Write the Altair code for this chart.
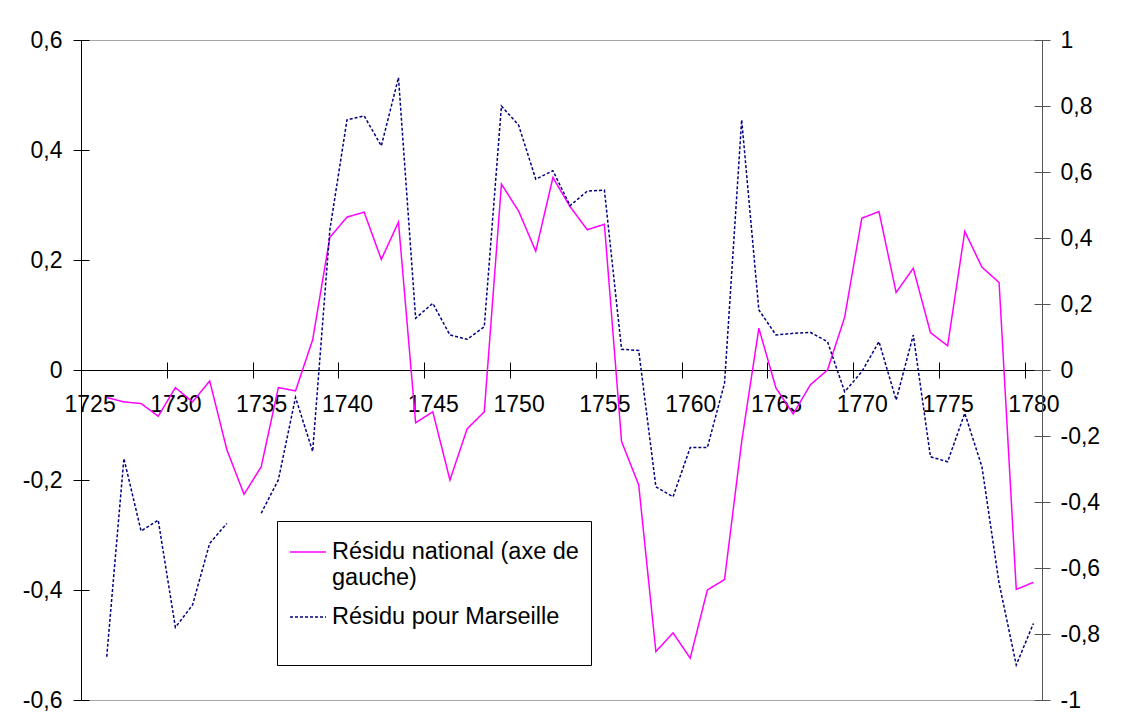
import altair as alt
import pandas as pd

years = list(range(1726, 1781))
national = [-0.050, -0.058, -0.061, -0.084, -0.032, -0.058, -0.020, -0.145, -0.226, -0.176,
            -0.032, -0.038, 0.055, 0.241, 0.278, 0.287, 0.201, 0.269, -0.096, -0.076,
            -0.200, -0.107, -0.076, 0.338, 0.289, 0.216, 0.350, 0.297, 0.255, 0.265,
            -0.130, -0.209, -0.512, -0.478, -0.524, -0.400, -0.381, -0.130, 0.076, -0.033,
            -0.080, -0.027, 0.000, 0.096, 0.276, 0.288, 0.141, 0.185, 0.068, 0.044,
            0.252, 0.187, 0.159, -0.399, -0.386]
marseille = [-0.869, -0.268, -0.488, -0.455, -0.780, -0.712, -0.525, -0.465, None, -0.434,
             -0.333, -0.083, -0.247, 0.424, 0.758, 0.770, 0.679, 0.886, 0.157, 0.202,
             0.106, 0.093, 0.131, 0.800, 0.742, 0.578, 0.604, 0.498, 0.542, 0.545,
             0.063, 0.059, -0.354, -0.384, -0.235, -0.235, -0.040, 0.758, 0.182, 0.106,
             0.111, 0.114, 0.086, -0.066, -0.005, 0.086, -0.091, 0.106, -0.263, -0.278,
             -0.131, -0.293, -0.646, -0.894, -0.768]
series_names = ["Résidu national (axe de gauche)", "Résidu pour Marseille"]
x_labels = list(range(1725, 1781, 5))
left_ticks = [-0.6, -0.4, -0.2, 0, 0.2, 0.4, 0.6]
right_ticks = [-1, -0.8, -0.6, -0.4, -0.2, 0, 0.2, 0.4, 0.6, 0.8, 1]

df_nat = pd.DataFrame({"year": years, "value": national, "serie": series_names[0]})
df_mar = pd.DataFrame({"year": years, "value": marseille, "serie": series_names[1]})

W, H = 961, 660
CAT = W / 56.0
FONT = "Liberation Sans"
FS = 23
LFS = 23.5
TS = 8
x_dom = [1724.5, 1780.5]

label_expr = "replace(replace(format(datum.value, '.1~f'), '.', ','), '\u2212', '-')"
legend_expr = ("datum.label == 'Résidu national (axe de gauche)' ? "
               "['Résidu national (axe de', 'gauche)'] : datum.label")

color_scale = alt.Scale(domain=series_names, range=["#ff00ff", "#000080"])
dash_scale = alt.Scale(domain=series_names, range=[[1, 0], [3, 2]])


def leg():
    return alt.Legend(title=" ", labelExpr=legend_expr)


def xscale():
    return alt.Scale(domain=x_dom, nice=False, zero=False)


x_bottom = alt.X("year:Q", scale=xscale(), axis=alt.Axis(
    orient="bottom", offset=-H / 2, values=x_labels, format="d",
    tickOffset=-CAT / 2, labelOffset=CAT / 2, tickSize=TS, tickColor="black",
    domainColor="black", labelFontSize=FS, labelFont=FONT, labelColor="black",
    labelPadding=15, grid=False, title=None, labelFlush=False, labelOverlap=False))

x_top = alt.X("year:Q", scale=xscale(), axis=alt.Axis(
    orient="top", offset=-H / 2, values=x_labels, tickOffset=-CAT / 2,
    tickSize=TS, tickColor="black", domain=False, labels=False, grid=False, title=None))

x_none = alt.X("year:Q", scale=xscale(), axis=None)

y_left = alt.Y("value:Q", scale=alt.Scale(domain=[-0.6, 0.6], nice=False, zero=False), axis=alt.Axis(
    orient="left", values=left_ticks, labelExpr=label_expr, tickSize=TS, tickColor="black",
    domainColor="black", labelFontSize=FS, labelFont=FONT, labelColor="black",
    labelPadding=11, grid=False, title=None))

y_right = alt.Y("value:Q", scale=alt.Scale(domain=[-1, 1], nice=False, zero=False), axis=alt.Axis(
    orient="right", values=right_ticks, labelExpr=label_expr, tickSize=TS, tickColor="#555555",
    domainColor="#555555", labelFontSize=FS, labelFont=FONT, labelColor="black",
    labelPadding=10, grid=False, title=None))

y_left_in = alt.Y("value:Q", scale=alt.Scale(domain=[-0.6, 0.6], nice=False, zero=False), axis=alt.Axis(
    orient="right", offset=-W, values=left_ticks, tickSize=TS, tickColor="black",
    domain=False, labels=False, grid=False, title=None))

y_right_in = alt.Y("value:Q", scale=alt.Scale(domain=[-1, 1], nice=False, zero=False), axis=alt.Axis(
    orient="left", offset=-W, values=right_ticks, tickSize=TS, tickColor="#555555",
    domain=False, labels=False, grid=False, title=None))

nat_line = alt.Chart(df_nat).mark_line(strokeWidth=1.5).encode(
    x=x_bottom, y=y_left,
    color=alt.Color("serie:N", scale=color_scale, legend=leg()),
    strokeDash=alt.StrokeDash("serie:N", scale=dash_scale, legend=leg()))

mar_line = alt.Chart(df_mar).mark_line(strokeWidth=1.5, invalid="break-paths-show-domains").encode(
    x=x_none, y=y_right,
    color=alt.Color("serie:N", scale=color_scale, legend=leg()),
    strokeDash=alt.StrokeDash("serie:N", scale=dash_scale, legend=leg()))

ticks_a = alt.Chart(df_nat).mark_line(opacity=0).encode(x=x_top, y=y_left_in)
ticks_b = alt.Chart(df_nat).mark_line(opacity=0).encode(x=x_none, y=y_right_in)

chart = alt.layer(ticks_a, ticks_b, nat_line, mar_line).resolve_scale(
    x="independent", y="independent", color="shared", strokeDash="shared"
).resolve_axis(x="independent", y="independent").properties(
    width=W, height=H,
    autosize=alt.AutoSizeParams(type="none"),
    padding={"left": 73, "top": 32, "right": 73, "bottom": 12},
    background="white",
).configure_view(stroke="#a6a6a6", strokeWidth=1).configure_legend(
    orient="none", legendX=196, legendY=481, strokeColor="black", fillColor="white",
    padding=12, labelFontSize=LFS, labelFont=FONT, labelColor="black", labelLimit=500,
    symbolType="stroke", symbolSize=1296, symbolStrokeWidth=1.5, rowPadding=9,
    labelOffset=5, labelBaseline="middle",
    titleOrient="bottom", titleFontSize=LFS, titlePadding=0,
)

chart.save("out.html", embed_options={"renderer": "svg", "actions": False})
